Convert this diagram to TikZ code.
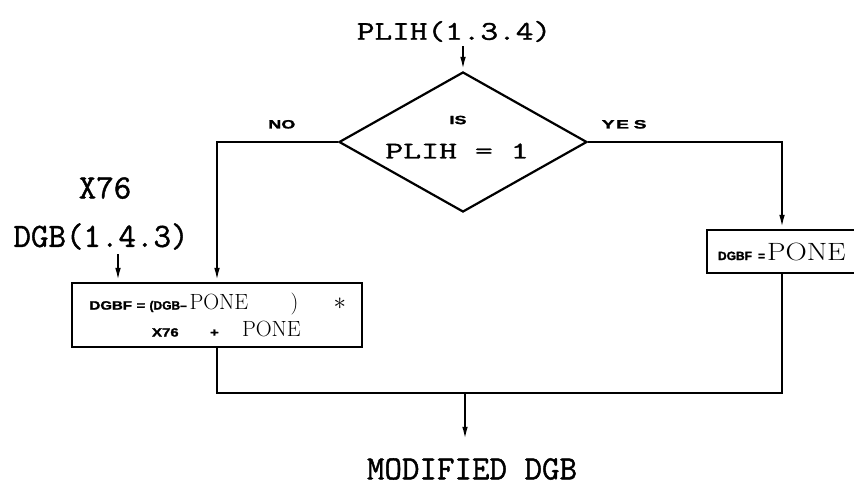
\documentclass[tikz,border=0pt]{standalone}
\usepackage{fontspec}
\newfontfamily\typefont[FakeBold=1.2]{Latin Modern Mono}
\newfontfamily\tagfont[BoldFeatures={FakeBold=1.5}]{Liberation Sans}
\newcommand{\TT}[3][1]{\scalebox{#1}[1]{\typefont\fontsize{#2}{#2}\selectfont #3}}
\newcommand{\TG}[2][1.25]{\scalebox{#1}[1]{\tagfont\bfseries\fontsize{12}{14}\selectfont #2}}
\newcommand{\RM}[3][1]{\scalebox{#1}[1]{\rmfamily\fontsize{#2}{#2}\selectfont #3}}
\usetikzlibrary{arrows.meta,shapes.geometric}

\begin{document}
\begin{tikzpicture}[x=1pt,y=-1pt,line width=2.2pt,
  >={Latex[length=14pt,width=5.5pt]}]
\useasboundingbox (0,0) rectangle (854,487);
%
\node (plih) at (454,31.5) {\TT[1.27]{27}{PLIH(1.3.4)}};
\node (test) [draw, diamond, aspect=1.77, inner sep=0pt,
  minimum width=248pt, minimum height=140pt] at (463,142) {};
\node (is) at (458,120) {\TG[1.5]{IS}};
\node (cond) at (457,151) {\TT[1.45]{24}{PLIH = 1}};
\node (x76) at (105,188) {\TT{34}{X76}};
\node (dgb) at (101,236.5) {\TT{34}{DGB(1.4.3)}};
\node (calc) [draw, minimum width=290pt, minimum height=64pt, align=center,
  inner sep=0pt, font=\fontsize{22}{27}\selectfont] at (217,315)
  {\makebox[255pt][l]{\rlap{\TG{DGBF}}\hspace{47pt}\rlap{\TG{=}}\hspace{13pt}%
     \rlap{\TG[1]{(DGB\textendash}}\hspace{40pt}\rlap{\RM{22}{PONE}}\hspace{101pt}%
     \rlap{\RM{22}{)}}\hspace{43pt}\RM{24}{$\ast$}}\\
   \hspace*{25pt}\makebox[155pt][l]{\rlap{\TG{X76}}\hspace{58pt}\rlap{\TG{+}}%
     \hspace{32pt}\RM{22}{PONE}}};
\node (set) [draw, minimum width=150pt, minimum height=43pt, inner sep=0pt]
  at (782,251.5) {\hspace*{7pt}\makebox[135pt][l]{\rlap{\TG[1]{DGBF}}\hspace{40pt}%
     \rlap{\TG[1]{=}}\hspace{9pt}\RM[1.18]{25}{PONE}}};
\coordinate (join) at (465,393);
\node (out) at (472,469) {\TT{34}{MODIFIED DGB}};

\draw[->] (plih.south -| test.north) -- (test.north);
\draw[->] (test.west) -| node[pos=0.232, above=9pt] (no) {\TG[1.5]{NO}} (calc);
\draw[->] (test.east) -| node[pos=0.093, above=9pt] (yes) {\TG[1.6]{Y\hspace{1pt}E\hspace{3pt}S}} (set);
\draw[->] ([xshift=17pt]dgb.south) -- ([xshift=17pt]dgb.south |- calc.north);
\draw (calc) |- (join);
\draw (set) |- (join);
\draw[->, shorten >=13pt] (join) -- (join |- out.north);
\end{tikzpicture}
\end{document}
